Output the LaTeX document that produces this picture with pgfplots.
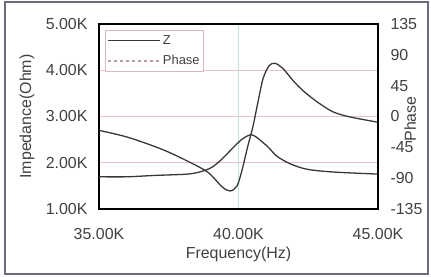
\documentclass[border=0pt]{standalone}
\usepackage{fontspec}
\setmainfont{Liberation Sans}
\usepackage{pgfplots}
\pgfplotsset{compat=1.18}
\usepackage{pgfplotstable}
\definecolor{curve}{HTML}{383838}
\definecolor{framecol}{HTML}{6E6A7A}
\definecolor{xgrid}{HTML}{BEE6D8}
\definecolor{ygrid}{HTML}{EAC0CC}
\definecolor{legframe}{HTML}{D8B8C8}
\definecolor{phaseleg}{HTML}{B89AA8}

\pgfplotstableread{
f z
35.00 2.70
36.04 2.55
37.26 2.29
38.19 2.03
38.91 1.79
39.41 1.48
39.70 1.39
39.95 1.50
40.13 1.85
40.33 2.35
40.52 2.79
40.70 3.32
40.88 3.82
41.10 4.10
41.31 4.15
41.59 4.04
41.95 3.78
42.31 3.56
42.81 3.32
43.39 3.10
44.00 2.99
44.96 2.88
}\zdata

\pgfplotstableread{
f p
35.00 -88
36.00 -88
37.00 -86
38.19 -84
38.69 -80
39.05 -74
39.41 -62
39.77 -47
40.13 -33
40.41 -27
40.60 -29
41.02 -43
41.38 -58
41.85 -69
42.46 -77
43.39 -81
44.96 -84
}\pdata

\begin{document}
\begin{tikzpicture}
\path[use as bounding box] (-99bp,-68bp) rectangle (332bp,209bp);
\draw[framecol, line width=1.5bp] (-94bp,-65bp) rectangle (329bp,207bp);
\begin{axis}[
  scale only axis, width=279bp, height=185bp,
  xmin=35, xmax=45, ymin=1, ymax=5,
  xtick={35,40,45}, xticklabels={35.00K,40.00K,45.00K},
  ytick={1,2,3,4,5}, yticklabels={1.00K,2.00K,3.00K,4.00K,5.00K},
  xtick pos=bottom, ytick pos=left,
  major tick length=0pt,
  grid=major,
  major x grid style={color=xgrid, line width=0.7bp},
  major y grid style={color=ygrid, line width=0.7bp},
  axis line style={line width=1.8bp, black},
  tick label style={font=\fontsize{16}{18}\selectfont, text=black!75},
  label style={font=\fontsize{16}{18}\selectfont, text=black!75},
  xticklabel style={anchor=center, yshift=-25bp},
  yticklabel style={anchor=east, xshift=-8bp},
  xlabel={Frequency(Hz)},
  xlabel style={at={(axis description cs:0.5,-0.243)}, anchor=center},
  ylabel={Impedance(Ohm)},
  ylabel style={at={(axis description cs:-0.258,0.5)}, anchor=center},
]
\addplot[curve, line width=1.3bp, smooth, tension=0.5] table[x=f, y=z] {\zdata};
\end{axis}
\begin{axis}[
  scale only axis, width=279bp, height=185bp,
  xmin=35, xmax=45, ymin=-135, ymax=135,
  hide x axis,
  axis y line*=right,
  ytick={-135,-90,-45,0,45,90,135},
  yticklabels={-135,-90,-45,0,45,90,135},
  yticklabel pos=right,
  major tick length=0pt,
  axis line style={line width=1.8bp, black},
  tick label style={font=\fontsize{16}{18}\selectfont, text=black!75},
  label style={font=\fontsize{16}{18}\selectfont, text=black!75},
  yticklabel style={anchor=west, xshift=9bp},
  ylabel={Phase},
  ylabel style={at={(axis description cs:1.115,0.487)}, anchor=center},
  legend style={at={(axis description cs:0.022,0.968)}, anchor=north west,
    draw=legframe, line width=0.6bp, font=\fontsize{13}{15}\selectfont,
    text=black!75, inner xsep=2bp, inner ysep=3bp, row sep=6bp},
  legend cell align=left,
  legend image code/.code={\draw[#1] (0bp,0bp) -- (52bp,0bp);},
]
\addlegendimage{curve, line width=1.5bp}
\addlegendentry{Z}
\addplot[curve, line width=1.3bp, smooth, tension=0.5, forget plot] table[x=f, y=p] {\pdata};
\addlegendimage{phaseleg, line width=1.2bp, dash pattern=on 3bp off 3bp}
\addlegendentry{Phase}
\end{axis}
\end{tikzpicture}
\end{document}
